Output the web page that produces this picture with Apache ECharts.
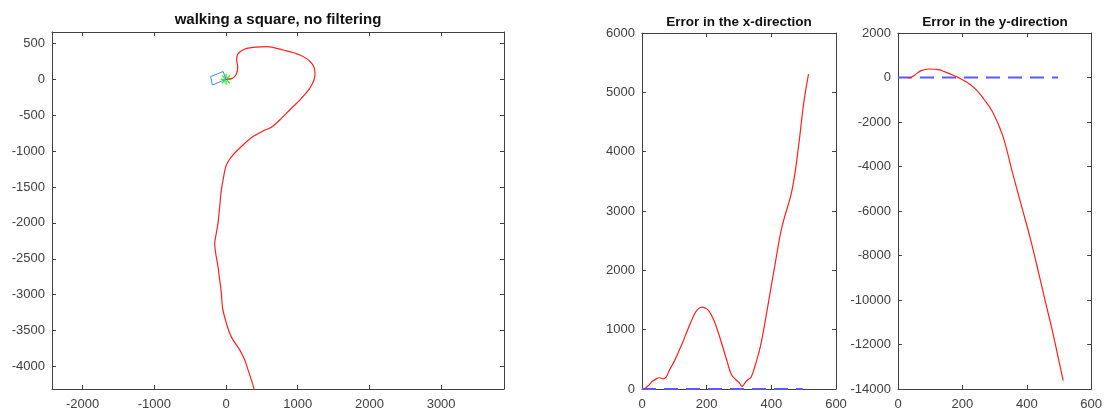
<!DOCTYPE html>
<html>
<head>
<meta charset="utf-8">
<script src="https://cdn.jsdelivr.net/npm/echarts@6/dist/echarts.min.js"></script>
<style>
html,body{margin:0;padding:0;background:#fff;}
#main{width:1105px;height:414px;}
</style>
</head>
<body>
<div id="main"></div>
<script>
// ---- data ----
const titles = ['walking a square, no filtering', 'Error in the x-direction', 'Error in the y-direction'];

// estimated walked path (red)
const trajX = [0,102,149,163,149,158,195,289,568,795,1032,1195,1241,1227,1167,1051,888,749,633,516,377,237,98,5,-33,-65,-88,-112,-144,-158,-144,-112,-88,-65,-51,-33,5,51,98,191,260,307,353,391,405];
const trajY = [0,22,84,175,269,338,384,432,454,408,338,223,84,-10,-125,-265,-427,-566,-668,-719,-798,-914,-1053,-1193,-1355,-1541,-1773,-2005,-2190,-2283,-2422,-2608,-2794,-2979,-3165,-3258,-3397,-3536,-3629,-3768,-3907,-4046,-4186,-4311,-4380];

// true square (blue)
const squareX = [0,-40,-215,-190,0];
const squareY = [0,108,38,-79,0];

// start point (green star)
const startX = [0];
const startY = [0];

// error in x-direction (red)
const errXT = [8,20,31,45,54,65,75,85,100,115,127,134,149,165,175,186,195,206,222,240,263,276,291,300,310,318,327,338,350,366,387,412,433,464,484,500,515];
const errXV = [0,60,124,175,190,170,205,320,470,650,800,900,1100,1290,1355,1380,1365,1320,1163,881,470,250,152,110,45,100,152,208,400,713,1331,2118,2735,3353,4083,4814,5308];

// error in y-direction (red)
const errYT = [26,36,52,72,98,113,130,144,170,186,211,242,268,294,325,356,387,413,438,459,479,500,513];
const errYV = [0,-20,112,307,382,370,340,262,112,7,-187,-532,-1000,-1550,-2600,-4300,-5950,-7350,-8850,-10150,-11350,-12750,-13620];

// reference zero line (blue dashed)
const zeroT = [0,497];
const zeroV = [0,0];

// ---- chart ----
const zip = (a, b) => a.map((v, i) => [v, b[i]]);
const FONT = 'Liberation Sans, Arial, Helvetica, sans-serif';
const axisColor = '#404040';
const labelColor = '#404040';
const plain = v => String(v);

const starPath = 'path://M-5,-0.6L5,-0.6L5,0.6L-5,0.6Z M-0.6,-5L0.6,-5L0.6,5L-0.6,5Z M-3.92,-3.08L3.08,3.92L3.92,3.08L-3.08,-3.92Z M-3.08,3.92L3.92,-3.08L3.08,-3.92L-3.92,3.08Z';

function ax(grid, pos, range, showLabels, showEdge, margin) {
  return Object.assign({
    type: 'value', gridIndex: grid, position: pos,
    axisLine: {show: true, onZero: false, lineStyle: {color: axisColor, width: 1}},
    axisTick: {show: true, inside: true, length: 4, lineStyle: {color: axisColor}},
    splitLine: {show: false},
    axisLabel: {show: showLabels, color: labelColor, fontSize: 13, fontFamily: FONT, margin: margin,
      formatter: plain, showMinLabel: showEdge, showMaxLabel: showEdge}
  }, range);
}

const leftX = {min: -2427, max: 3877, minInterval: 1000, maxInterval: 1000};
const leftY = {min: -4313, max: 659, minInterval: 500, maxInterval: 500};
const midX = {min: 0, max: 600, interval: 200};
const midY = {min: 0, max: 6000, interval: 1000};
const rgtX = {min: 0, max: 600, interval: 200};
const rgtY = {min: -14000, max: 2000, interval: 2000};

const chart = echarts.init(document.getElementById('main'), null, {renderer: 'canvas'});
chart.setOption({
  backgroundColor: '#fff',
  animation: false,
  title: [
    {text: titles[0], left: 278, top: 12, textAlign: 'center', padding: 0,
     textStyle: {fontSize: 15, fontWeight: 'bold', color: '#111', fontFamily: FONT}},
    {text: titles[1], left: 739, top: 15, textAlign: 'center', padding: 0,
     textStyle: {fontSize: 13.5, fontWeight: 'bold', color: '#111', fontFamily: FONT}},
    {text: titles[2], left: 995, top: 15, textAlign: 'center', padding: 0,
     textStyle: {fontSize: 13.5, fontWeight: 'bold', color: '#111', fontFamily: FONT}}
  ],
  grid: [
    {left: 52, top: 32, width: 452, height: 357},
    {left: 642, top: 33, width: 194, height: 356},
    {left: 898, top: 33, width: 194, height: 356}
  ],
  xAxis: [
    ax(0, 'bottom', leftX, true, false, 9),
    ax(0, 'top', leftX, false, false, 9),
    ax(1, 'bottom', midX, true, true, 9),
    ax(1, 'top', midX, false, true, 9),
    ax(2, 'bottom', rgtX, true, true, 9),
    ax(2, 'top', rgtX, false, true, 9)
  ],
  yAxis: [
    ax(0, 'left', leftY, true, false, 7),
    ax(0, 'right', leftY, false, false, 7),
    ax(1, 'left', midY, true, true, 7),
    ax(1, 'right', midY, false, true, 7),
    ax(2, 'left', rgtY, true, true, 7),
    ax(2, 'right', rgtY, false, true, 7)
  ],
  series: [
    {type: 'line', xAxisIndex: 0, yAxisIndex: 0, data: zip(trajX, trajY), smooth: 0.3, showSymbol: false,
     clip: true, lineStyle: {color: '#ff2020', width: 1.2}},
    {type: 'line', xAxisIndex: 0, yAxisIndex: 0, data: zip(squareX, squareY), smooth: false, showSymbol: false,
     lineStyle: {color: '#3d8fd6', width: 1}},
    {type: 'scatter', xAxisIndex: 0, yAxisIndex: 0, data: zip(startX, startY), symbol: starPath, symbolSize: 11,
     itemStyle: {color: '#00ee00'}},
    {type: 'line', xAxisIndex: 2, yAxisIndex: 2, data: zip(zeroT, zeroV), showSymbol: false,
     lineStyle: {color: '#5a5aff', width: 2, type: [14, 8]}},
    {type: 'line', xAxisIndex: 2, yAxisIndex: 2, data: zip(errXT, errXV), smooth: 0.4, showSymbol: false,
     lineStyle: {color: '#ff2020', width: 1.2}},
    {type: 'line', xAxisIndex: 4, yAxisIndex: 4, data: zip(zeroT, zeroV), showSymbol: false,
     lineStyle: {color: '#5a5aff', width: 2, type: [14, 8]}},
    {type: 'line', xAxisIndex: 4, yAxisIndex: 4, data: zip(errYT, errYV), smooth: 0.4, showSymbol: false,
     lineStyle: {color: '#ff2020', width: 1.2}}
  ]
});
</script>
</body>
</html>
